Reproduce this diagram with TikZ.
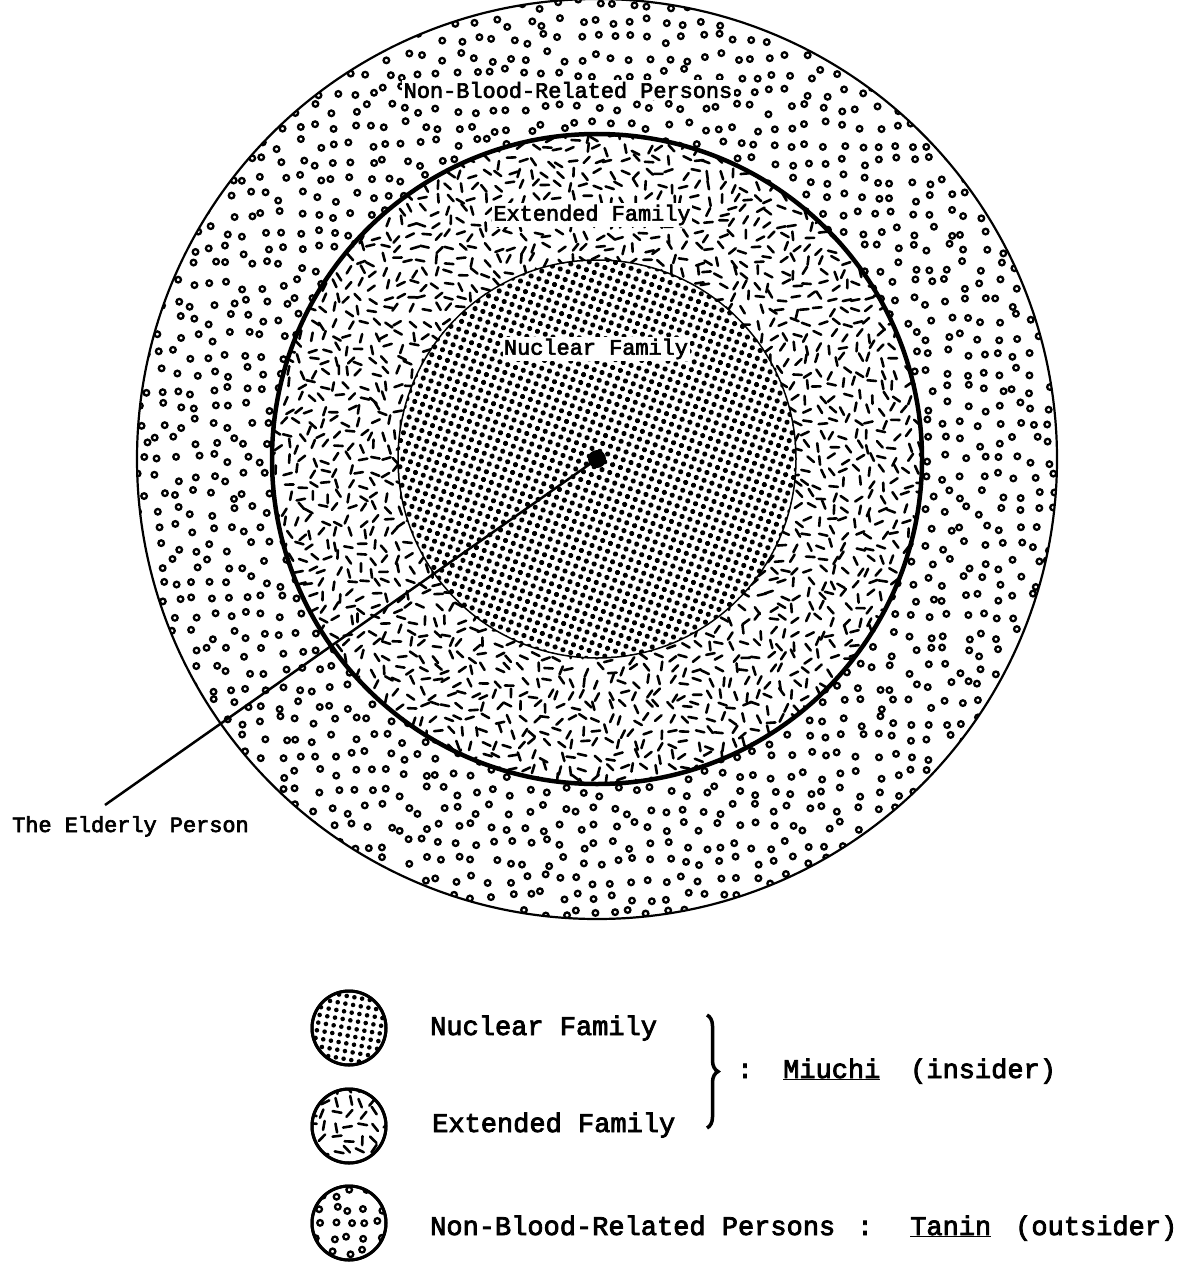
\documentclass[tikz,border=0pt]{standalone}
\usepackage{fontspec}
\newfontfamily\tw[FakeBold=3]{Liberation Mono}
\usetikzlibrary{decorations.pathreplacing}
\begin{document}
\begin{tikzpicture}[x=1pt,y=-1pt,
  ringdot/.style={draw=black,line width=2.3},
  dashbit/.style={line width=2.6,line cap=round},
  lab/.style={font=\tw\fontsize{21.9}{26}\selectfont,fill=white,inner sep=1.5pt},
  leg/.style={font=\tw\fontsize{27}{32}\selectfont,inner sep=0pt},
  legcirc/.style={circle,draw,line width=3,minimum size=74,inner sep=0pt},
  ]
\useasboundingbox (0,0) rectangle (1195,1268);
\coordinate (C) at (597,459);
\pgfmathsetseed{12345}
% outer ring pattern
\begin{scope}
  \clip (C) circle (460);
  \begin{scope}[shift={(C)}]
  \foreach \i in {-26,...,26}{\foreach \j in {-26,...,26}{
    \pgfmathsetmacro\px{\i*17.5+5.5*rand}
    \pgfmathsetmacro\py{\j*17.5+5.5*rand}
    \draw[ringdot] (\px,\py) circle (2.8);
  }}
  \end{scope}
\end{scope}
% middle ring pattern
\fill[white] (C) circle (325);
\begin{scope}
  \clip (C) circle (325);
  \begin{scope}[shift={(C)}]
  \foreach \i in {-27,...,27}{\foreach \j in {-27,...,27}{
    \pgfmathsetmacro\px{\i*12.4+4*rand}
    \pgfmathsetmacro\py{\j*12.4+4*rand}
    \pgfmathsetmacro\a{180*rnd}
    \draw[dashbit] (\px,\py) ++(\a+180:4.3) -- ++(\a:8.6);
  }}
  \end{scope}
\end{scope}
% inner halftone
\fill[white] (C) circle (199);
\begin{scope}
  \clip (C) circle (199);
  \begin{scope}[shift={(C)},rotate=-20]
  \foreach \i in {-25,...,25}{\foreach \j in {-25,...,25}{
    \fill (\i*8.3,\j*8.3) circle (2.6);
  }}
  \end{scope}
\end{scope}
\draw[line width=1.5] (C) circle (199);
\draw[line width=4.5] (C) circle (325);
\draw[line width=2.2] (C) circle (460);
% labels
\node[lab] (nbr) at (568,90) {Non-Blood-Related Persons};
\node[lab] (ext) at (592,215) {Extended Family};
\node[lab] (nuc) at (596,349) {Nuclear Family};
% elderly person
\node[circle,fill=black,minimum size=18,inner sep=0pt] (dot) at (C) {};
\coordinate (E) at (105,805);
\draw[line width=2.5] (dot.center) -- (E);
\node[font=\tw\fontsize{21.9}{26}\selectfont,inner sep=0pt,anchor=base west] (elder) at (12,832) {The Elderly Person};
% legend circles
\node[legcirc] (l1) at (349,1028) {};
\node[legcirc] (l2) at (349,1126) {};
\node[legcirc] (l3) at (349,1223) {};
\begin{scope}
  \clip (l1.center) circle (36);
  \begin{scope}[shift={(l1.center)},rotate=-10]
  \foreach \i in {-5,...,5}{\foreach \j in {-5,...,5}{
    \fill (\i*7.8,\j*7.8) circle (2.3);
  }}
  \end{scope}
\end{scope}
\begin{scope}
  \clip (l2.center) circle (36);
  \begin{scope}[shift={(l2.center)}]
  \foreach \i in {-3,...,3}{\foreach \j in {-3,...,3}{
    \pgfmathsetmacro\px{\i*12.5+3*rand}
    \pgfmathsetmacro\py{\j*12.5+3*rand}
    \pgfmathsetmacro\a{180*rnd}
    \draw[dashbit] (\px,\py) ++(\a+180:4.5) -- ++(\a:9);
  }}
  \end{scope}
\end{scope}
\begin{scope}
  \clip (l3.center) circle (36);
  \begin{scope}[shift={(l3.center)}]
  \foreach \i in {-3,...,3}{\foreach \j in {-3,...,3}{
    \pgfmathsetmacro\px{\i*15+4*rand}
    \pgfmathsetmacro\py{\j*15+4*rand}
    \draw[ringdot] (\px,\py) circle (2.8);
  }}
  \end{scope}
\end{scope}
\draw[line width=3] (l1.center) circle (37);
\draw[line width=3] (l2.center) circle (37);
\draw[line width=3] (l3.center) circle (37);
% legend texts
\node[leg,anchor=base west] (tn) at (430,1035) {Nuclear Family};
\node[leg,anchor=base west] (te) at (432,1132) {Extended Family};
\node[leg,anchor=base west] (tb) at (430,1235) {Non-Blood-Related Persons};
\draw[line width=3.5,decorate,decoration={brace,amplitude=11}] (707,1015) -- (707,1128);
\node[leg,anchor=base] (c1) at (745,1078) {:};
\node[leg,anchor=base west] (mi) at (783,1078) {\underline{Miuchi}};
\node[leg,anchor=base west] (ins) at (910,1078) {(insider)};
\node[leg,anchor=base] (c2) at (865,1235) {:};
\node[leg,anchor=base west] (ta) at (910,1235) {\underline{Tanin}};
\node[leg,anchor=base west] (out) at (1015,1235) {(outsider)};
\end{tikzpicture}
\end{document}
